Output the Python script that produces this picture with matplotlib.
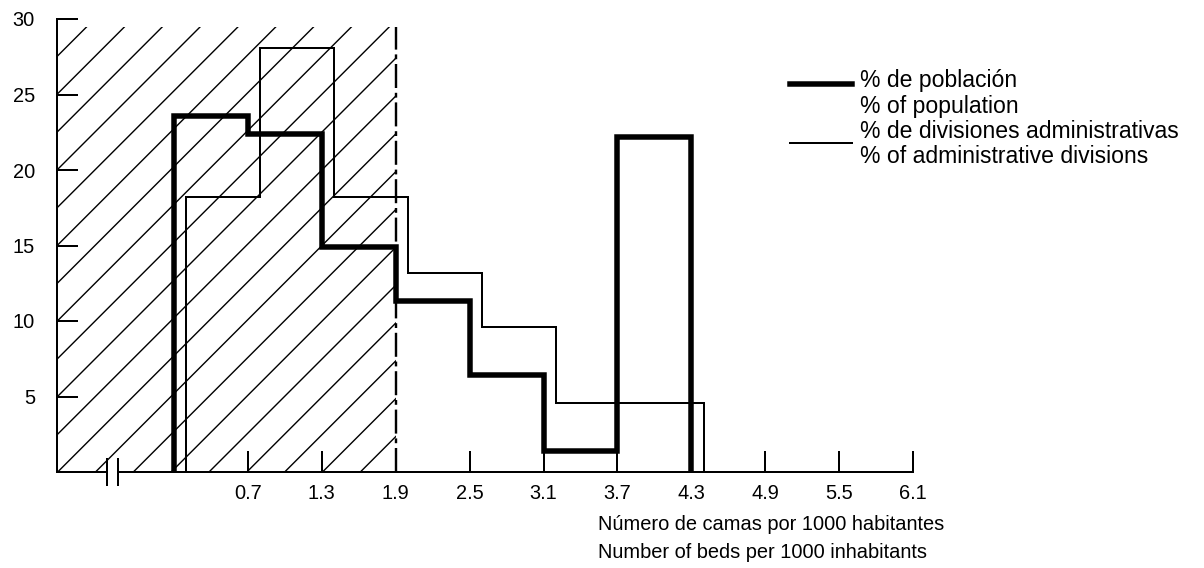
import matplotlib.pyplot as plt
from matplotlib.lines import Line2D

# histogram bins (beds per 1000 inhabitants) and percentages
pop_edges = [0.1, 0.7, 1.3, 1.9, 2.5, 3.1, 3.7, 4.3]
pop_pct = [23.6, 22.4, 14.9, 11.3, 6.4, 1.4, 22.2]
adm_edges = [0.2, 0.8, 1.4, 2.0, 2.6, 3.2, 3.8, 4.4]
adm_pct = [18.2, 28.1, 18.2, 13.2, 9.6, 4.6, 4.6]
xticks = [0.7, 1.3, 1.9, 2.5, 3.1, 3.7, 4.3, 4.9, 5.5, 6.1]
yticks = [5, 10, 15, 20, 25, 30]
shade_limit = 1.9

pop_label = ["% de población", "% of population"]
adm_label = ["% de divisiones administrativas", "% of administrative divisions"]
xlabel = ["Número de camas por 1000 habitantes",
          "Number of beds per 1000 inhabitants"]

DPI = 227          # fixes the hatch spacing to the printed one
P = 72.0 / DPI     # pixels -> points
W, H = 1204, 568

plt.rcParams['font.family'] = ['Liberation Sans', 'DejaVu Sans']
plt.rcParams['hatch.linewidth'] = 1.4 * P

fig = plt.figure(figsize=(W / DPI, H / DPI), dpi=DPI)
ax = fig.add_axes([57 / W, 96 / H, (913 - 57) / W, 453 / H])
x0, x1 = -0.85, 6.1
ax.set_xlim(x0, x1)
ax.set_ylim(0, 30)

# shaded zone below the threshold
ax.axvspan(x0, shade_limit, ymin=0, ymax=29.5 / 30, facecolor='none',
           edgecolor='black', linewidth=0, hatch='//', zorder=1)
ax.vlines(shade_limit, 0, 29.5, colors='black', linewidth=2.4 * P,
          linestyles=(0, (10, 2, 2, 2)), zorder=2)

ax.stairs(adm_pct, adm_edges, baseline=0, fill=False, color='black',
          linewidth=2 * P, zorder=3)
ax.stairs(pop_pct, pop_edges, baseline=0, fill=False, color='black',
          linewidth=5.5 * P, zorder=4)

# axes
for s in ['top', 'right']:
    ax.spines[s].set_visible(False)
ax.spines['left'].set_linewidth(2 * P)
ax.spines['bottom'].set_linewidth(2 * P)
brk = -0.4
gap = 0.045
ax.spines['bottom'].set_bounds(brk + gap, x1)
ax.plot([x0, brk - gap], [0, 0], color='black', linewidth=2 * P,
        solid_capstyle='butt', clip_on=False)
ax.vlines([brk - gap, brk + gap], -0.9, 0.9, colors='black',
          linewidth=2 * P, clip_on=False)

ax.set_xticks(xticks)
ax.set_xticklabels([f"{v:.1f}" for v in xticks])
ax.set_yticks(yticks)
ax.tick_params(direction='in', length=21 * P, width=2 * P,
               labelsize=20 * P)
ax.tick_params(axis='x', pad=12 * P)
ax.tick_params(axis='y', pad=22 * P)

for i, line in enumerate(xlabel):
    fig.text(598 / W, 1 - (524 + 29 * i) / H, line, ha='left', va='center',
             fontsize=20 * P)

# legend
fig.add_artist(Line2D([790 / W, 852 / W], [1 - 84 / H, 1 - 84 / H],
                      color='black', linewidth=5.5 * P))
fig.add_artist(Line2D([790 / W, 852 / W], [1 - 143 / H, 1 - 143 / H],
                      color='black', linewidth=2 * P))
for i, line in enumerate(pop_label + adm_label):
    fig.text(860 / W, 1 - (81 + 25.3 * i) / H, line, ha='left', va='center',
             fontsize=23 * P)

fig.savefig('out.png', dpi=DPI, facecolor='white')
